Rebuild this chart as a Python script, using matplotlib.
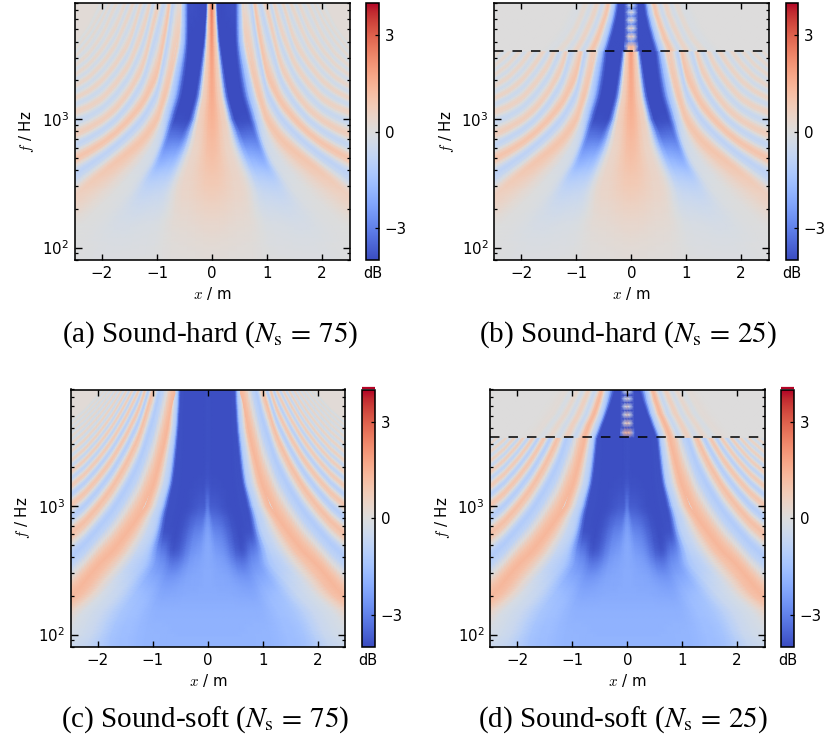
import numpy as np
import matplotlib
matplotlib.use("Agg")
import matplotlib.pyplot as plt
from matplotlib.colors import Normalize
from matplotlib.ticker import LogLocator, NullFormatter

W, H = 826, 742

# ---------- values (x in m, f in Hz, level in dB) ----------
ROW_F = [80, 100, 150, 200, 270, 350, 450, 600, 800, 1000, 1500, 2500, 4000, 8000]

# central region: one row per ROW_F, bands run from x = 0 out to the first ridge
SOFT_X = [[0, .50, 1.0, 1.6, 2.4, 3.6], [0, .50, 1.0, 1.6, 2.3, 3.3],
          [0, .40, .90, 1.4, 2.1, 2.85], [0, .35, .80, 1.2, 1.8, 2.45],
          [0, .30, .70, 1.0, 1.5, 2.22], [0, .25, .62, .85, 1.2, 2.0],
          [0, .20, .62, .85, 1.15, 1.72], [0, .15, .58, .80, 1.0, 1.5],
          [0, .10, .52, .76, .92, 1.28], [0, .05, .45, .72, .86, 1.13],
          [0, .10, .40, .62, .72, .98], [0, .10, .40, .56, .66, .84],
          [0, .10, .40, .52, .60, .73], [0, .10, .40, .48, .55, .66]]
SOFT_V = [[-1.9, -1.9, -1.85, -1.6, -.6, .5], [-1.9, -1.9, -1.85, -1.6, -.4, .8],
          [-1.95, -1.95, -1.95, -1.5, -.4, 1.1], [-2.1, -2.1, -2.15, -1.6, -.4, 1.35],
          [-2.1, -2.2, -2.5, -2.1, -.7, 1.35], [-2.1, -2.3, -3.1, -2.6, -1.2, 1.35],
          [-2.1, -2.5, -3.9, -3.0, -.9, 1.35], [-2.2, -2.8, -3.95, -3.9, -.9, 1.35],
          [-2.6, -3.3, -3.95, -3.9, -1.0, 1.35], [-3.1, -3.7, -3.95, -3.9, -1.0, 1.35],
          [-3.9, -3.95, -3.95, -3.9, -1.0, 1.35], [-3.9, -3.95, -3.95, -3.9, -1.0, 1.35],
          [-3.9, -3.95, -3.95, -3.9, -1.0, 1.35], [-3.9, -3.95, -3.95, -3.9, -1.0, 1.35]]
HARD_X = [[0, .60, 1.2, 1.8, 2.6, 3.6], [0, .60, 1.2, 1.8, 2.4, 3.3],
          [0, .60, 1.1, 1.6, 2.2, 3.0], [0, .55, 1.0, 1.35, 1.9, 2.7],
          [0, .55, .95, 1.2, 1.55, 2.45], [0, .50, .85, 1.1, 1.35, 2.1],
          [0, .42, .75, .95, 1.15, 1.8], [0, .33, .62, .85, 1.0, 1.4],
          [0, .27, .52, .74, .90, 1.12], [0, .24, .42, .68, .86, 1.0],
          [0, .15, .30, .54, .72, .86], [0, .10, .22, .46, .62, .72],
          [0, .07, .15, .42, .52, .62], [0, .05, .09, .42, .52, .56]]
HARD_V = [[.12, .08, -.05, -.08, -.05, .1], [.15, .1, -.08, -.1, -.05, .1],
          [.35, .2, -.15, -.25, -.05, .25], [.5, .3, -.35, -.4, -.05, .5],
          [.75, .4, -.6, -.7, -.1, .65], [.9, .4, -1.0, -1.1, -.2, .8],
          [1.05, .4, -1.6, -1.8, -.3, .95], [1.2, .4, -2.4, -2.6, -.4, 1.0],
          [1.35, .5, -3.6, -3.4, -.6, 1.0], [1.45, .6, -4, -4, -.8, 1.0],
          [1.6, .6, -4, -4, -1.1, 1.0], [1.75, .7, -4, -4, -1.2, .9],
          [2.0, .8, -4, -4, -1.2, .7], [2.6, 1.0, -4, -3.9, -1.2, .5]]

# outer fringes: frequency of each further ridge at the positions FRINGE_X
FRINGE_X = [.6, .8, 1.0, 1.25, 1.5, 1.75, 2.0, 2.25, 2.55]
SOFT_RIDGE_F = [[6e4, 2e4, 8000, 3500, 2080, 1375, 990, 750, 580],
                [9e4, 3.6e4, 13000, 5700, 3470, 2290, 1650, 1255, 970],
                [1e5, 5e4, 18500, 8000, 4860, 3210, 2306, 1757, 1360],
                [1.1e5, 6e4, 2.5e4, 10300, 6250, 4126, 2965, 2259, 1750],
                [1.2e5, 7e4, 3e4, 12600, 7640, 5043, 3625, 2761, 2140],
                [1.3e5, 8e4, 3.5e4, 15000, 9030, 5960, 4283, 3263, 2530],
                [1.4e5, 9e4, 4e4, 17200, 10400, 6877, 4942, 3765, 2920],
                [1.5e5, 1e5, 4.5e4, 19500, 11800, 7795, 5600, 4267, 3310],
                [1.6e5, 1.1e5, 5e4, 21800, 13200, 8710, 6260, 4769, 3700],
                [1.7e5, 1.2e5, 5.5e4, 24000, 14600, 9630, 6920, 5271, 4090],
                [1.8e5, 1.3e5, 6e4, 26500, 16000, 10550, 7580, 5773, 4480]]
HARD_RIDGE_F = [[4e4, 6500, 2200, 1350, 1000, 785, 650, 560, 480],
                [9e4, 16000, 7500, 2600, 1650, 1200, 980, 850, 740],
                [1e5, 3e4, 14000, 5000, 2700, 1900, 1450, 1250, 1120],
                [1.1e5, 5e4, 2e4, 9500, 4000, 2700, 2000, 1650, 1420],
                [2e5, 7e4, 3e4, 13000, 6800, 3800, 2700, 2100, 1760],
                [2.1e5, 8e4, 4e4, 18000, 10000, 5200, 3500, 2650, 2120],
                [2.2e5, 9e4, 5e4, 22000, 13500, 8000, 4500, 3200, 2500],
                [2.3e5, 1e5, 6e4, 27000, 17000, 10500, 6000, 4000, 2900],
                [2.4e5, 1.1e5, 7e4, 32000, 21000, 14000, 7000, 4700, 3300],
                [2.5e5, 1.2e5, 8e4, 38000, 25000, 18000, 9500, 5500, 3700]]
SOFT_RIDGE_DB = [1.1, .95, .8, .7, .6, .5, .4, .3, .25, .2, .15]
SOFT_VALLEY_DB = [-1.15, -1.05, -.95, -.8, -.65, -.5, -.4, -.35, -.3, -.25, -.2]
HARD_RIDGE_DB = [1.0, .7, .55, .5, .42, .35, .3, .25, .2, .15]
HARD_VALLEY_DB = [-.85, -.75, -.6, -.5, -.4, -.35, -.3, -.25, -.2, -.1]

# above the aliasing frequency (Ns = 25)
ALIAS_F = 3400
ABOVE_F = [ALIAS_F, 4200, 5200, 6500, 8000]
SOFT25_X = [[0, .52, .62, .78, .95, 1.1, 1.25, 1.4, 1.55, 1.7, 1.95, 2.6],
            [0, .44, .54, .70, .85, 1.0, 1.13, 1.27, 1.4, 1.52, 1.75, 2.6],
            [0, .36, .46, .60, .74, .88, 1.0, 1.12, 1.24, 1.35, 1.6, 2.6],
            [0, .28, .40, .52, .66, .78, .9, 1.0, 1.12, 1.22, 1.45, 2.6],
            [0, .22, .36, .46, .58, .70, .8, .9, 1.0, 1.1, 1.3, 2.6]]
SOFT25_V = [-3.95, -3.95, -1.0, 1.35, -.6, .65, -.35, .35, -.2, .15, .03, 0]
HARD25_X = [[0, .10, .42, .55, .72, .88, 1.0, 1.15, 1.3, 1.45, 1.7, 2.6],
            [0, .10, .36, .48, .62, .76, .88, 1.0, 1.12, 1.25, 1.5, 2.6],
            [0, .10, .30, .42, .54, .66, .78, .9, 1.0, 1.1, 1.35, 2.6],
            [0, .09, .25, .36, .46, .58, .68, .8, .9, 1.0, 1.25, 2.6],
            [0, .08, .22, .32, .41, .52, .62, .72, .82, .92, 1.15, 2.6]]
HARD25_V = [-2.8, -3.95, -3.95, -1.0, 1.0, -.5, .5, -.3, .28, -.15, .03, 0]

DOT_F = [3400, 3700, 4050, 4400, 4750, 5100, 5500, 5900, 6350, 6800, 7250, 7700, 8000]
DOT_X = [0, .05, .12]
SOFT_DOT_V = [[-3.9, -3.9, -3.9], [1.4, 1.1, -2.8], [-3.9, -3.9, -3.9], [.9, .1, -3.9],
              [-3.9, -3.9, -3.9], [.7, -.2, -3.9], [-3.9, -3.9, -3.9], [.5, -.5, -3.9],
              [-3.9, -3.9, -3.9], [.3, -.7, -3.9], [-3.9, -3.9, -3.9], [.2, -.9, -3.9],
              [-3.9, -3.9, -3.9]]
HARD_DOT_V = [[1.6, .6, -3.9], [1.4, 1.0, -2.8], [-2.2, -2.8, -3.9], [1.0, .1, -3.9],
              [-2.4, -3.0, -3.9], [.7, -.3, -3.9], [-2.4, -3.0, -3.9], [.5, -.6, -3.9],
              [-2.4, -3.0, -3.9], [.3, -.9, -3.9], [-2.4, -3.0, -3.9], [.1, -1.1, -3.9],
              [-2.4, -3.0, -3.9]]

X_TICKS = [-2, -1, 0, 1, 2]
CB_TICKS = [-3, 0, 3]
CAPTIONS = [r"(a) Sound-hard ($N_{\mathrm{s}}\,=\,75$)", r"(b) Sound-hard ($N_{\mathrm{s}}\,=\,25$)",
            r"(c) Sound-soft ($N_{\mathrm{s}}\,=\,75$)", r"(d) Sound-soft ($N_{\mathrm{s}}\,=\,25$)"]

# ---------- layout: left, right, top, bottom, colourbar left, colourbar right, caption x, caption y ----------
PANELS = [(74.5, 349.5, 3, 260, 366, 379, 210, 335),
          (494, 768.5, 3, 260, 785.5, 798, 628, 335),
          (70.5, 345, 389.5, 647, 361.5, 375, 205, 720),
          (490, 764.5, 389.5, 647, 781, 794, 623, 720)]

plt.rcParams.update({"font.family": "DejaVu Sans", "font.size": 11, "axes.linewidth": 1.15})
norm = Normalize(-4, 4)
CMAP = "coolwarm"


def mirrored(x, v):
    x, v = np.asarray(x, float), np.asarray(v, float)
    return np.hstack([-x[:, :0:-1], x]), np.hstack([v[:, :0:-1], v])


def soften_bands(x, v, n=4):
    """Round the piecewise-linear profile between neighbouring bands (columns)."""
    t = np.arange(n) / n
    s = (1 - np.cos(np.pi * t)) / 2
    xo, vo = [], []
    for j in range(x.shape[1] - 1):
        for tk, sk in zip(t, s):
            xo.append(x[:, j] + (x[:, j + 1] - x[:, j]) * tk)
            vo.append(v[:, j] + (v[:, j + 1] - v[:, j]) * sk)
    xo.append(x[:, -1])
    vo.append(v[:, -1])
    return np.array(xo).T, np.array(vo).T


def smooth_rows(pos, tables, n=6, passes=3):
    """Resample tables along their rows and ease the kinks between them."""
    pos = np.asarray(pos, float)
    u = np.arange(len(pos))
    new_u = np.linspace(0, len(pos) - 1, (len(pos) - 1) * n + 1)
    out = [np.interp(new_u, u, pos)]
    for tb in tables:
        tb = np.array([np.interp(new_u, u, tb[:, j]) for j in range(tb.shape[1])]).T
        for _ in range(passes):
            p = np.pad(tb, ((2, 2), (0, 0)), mode="edge")
            tb = (p[:-4] + 2 * p[1:-3] + 2 * p[2:-2] + 2 * p[3:-1] + p[4:]) / 8
        out.append(tb)
    return out


def base_field(ax, xt, vt, ridge_f, ridge_db, valley_db):
    rows = np.array(ROW_F, float)
    xt, vt = np.array(xt, float), np.array(vt, float)
    lr, xs, vs = smooth_rows(np.log10(rows), [xt, vt])
    xs2, vs2 = soften_bands(xs, vs)
    X, V = mirrored(xs2, vs2)
    Y = np.tile((10 ** lr)[:, None], (1, X.shape[1]))
    m = ax.pcolormesh(X, Y, V, shading="gouraud", cmap=CMAP, norm=norm, zorder=1)
    cols = np.array(FRINGE_X)
    lf0 = np.interp(cols, xs[::-1, -1], lr[::-1])
    f0 = 10 ** lf0
    v0 = np.interp(lf0, lr, vs[:, -1])
    lines, vals = [f0], [v0]
    prev = f0
    for r, rv, vv in zip(ridge_f, ridge_db, valley_db):
        r = np.array(r, float)
        lines += [(prev + r) / 2, r]
        vals += [np.full(len(cols), vv), np.full(len(cols), rv)]
        prev = r
    lines.append(np.full(len(cols), 6e5))
    vals.append(np.zeros(len(cols)))
    LF = np.log10(np.array(lines)).T      # one row per FRINGE_X, one column per line
    Vf = np.array(vals).T
    c2, LF2, Vf2 = smooth_rows(cols, [LF, Vf], passes=1)
    LF3, Vf3 = soften_bands(LF2, Vf2)
    F = 10 ** LF3
    Xf = np.tile(c2[:, None], (1, F.shape[1]))
    for sign in (1, -1):
        ax.pcolormesh(sign * Xf, F, Vf3, shading="gouraud", cmap=CMAP, norm=norm, zorder=1.1)
    return m


def above_field(ax, xt, v, dots):
    xs, vs = soften_bands(np.array(xt, float), np.tile(v, (len(ABOVE_F), 1)))
    X, V = mirrored(xs, vs)
    Y = np.tile(np.array(ABOVE_F, float)[:, None], (1, X.shape[1]))
    ax.pcolormesh(X, Y, V, shading="gouraud", cmap=CMAP, norm=norm, zorder=1.2)
    X, V = mirrored(np.tile(DOT_X, (len(DOT_F), 1)), dots)
    Y = np.tile(np.array(DOT_F, float)[:, None], (1, X.shape[1]))
    ax.pcolormesh(X, Y, V, shading="gouraud", cmap=CMAP, norm=norm, zorder=1.3)
    ax.axhline(ALIAS_F, color="k", lw=1.1, linestyle=(0, (6.2, 5.9)), xmax=0.985, zorder=3)


fig = plt.figure(figsize=(W / 100, H / 100), dpi=100, facecolor="white")


def rect(l, r, t, b):
    return [l / W, 1 - b / H, (r - l) / W, (b - t) / H]


SPEC = [(HARD_X, HARD_V, HARD_RIDGE_F, HARD_RIDGE_DB, HARD_VALLEY_DB, None),
        (HARD_X, HARD_V, HARD_RIDGE_F, HARD_RIDGE_DB, HARD_VALLEY_DB, (HARD25_X, HARD25_V, HARD_DOT_V)),
        (SOFT_X, SOFT_V, SOFT_RIDGE_F, SOFT_RIDGE_DB, SOFT_VALLEY_DB, None),
        (SOFT_X, SOFT_V, SOFT_RIDGE_F, SOFT_RIDGE_DB, SOFT_VALLEY_DB, (SOFT25_X, SOFT25_V, SOFT_DOT_V))]

for i, (p, s, cap) in enumerate(zip(PANELS, SPEC, CAPTIONS)):
    l, r, t, b, cl, cr, capx, capy = p
    ax = fig.add_axes(rect(l, r, t, b), facecolor="#dddcdc")
    ax.set_yscale("log")
    m = base_field(ax, *s[:5])
    if s[5] is not None:
        above_field(ax, *s[5])
    ax.set_xlim(-2.5, 2.5)
    ax.set_ylim(80, 8000)
    ax.set_xticks(X_TICKS)
    ax.set_xticklabels(["\u22122", "\u22121", "0", "1", "2"])
    ax.yaxis.set_major_locator(LogLocator(base=10, numticks=5))
    ax.yaxis.set_minor_locator(LogLocator(base=10, subs=np.arange(2, 10) * 1.0, numticks=12))
    ax.yaxis.set_minor_formatter(NullFormatter())
    ax.tick_params(axis="x", which="major", direction="in", top=True, length=4.5, width=1.0,
                   pad=4, labelsize=10.8)
    ax.tick_params(axis="y", which="major", direction="in", right=True, length=5, width=1.0,
                   pad=4, labelsize=10.8)
    ax.tick_params(axis="y", which="minor", direction="in", right=True, length=2.5, width=.9)
    ax.set_xlabel("$x$ / m", fontsize=10.8, labelpad=3, math_fontfamily="cm")
    ax.set_ylabel("$f$ / Hz", fontsize=10.8, labelpad=4, math_fontfamily="cm")
    for sp in ax.spines.values():
        sp.set_zorder(5)

    cax = fig.add_axes(rect(cl, cr, t, b))
    cb = fig.colorbar(m, cax=cax)
    cb.set_ticks(CB_TICKS)
    cb.set_ticklabels(["\u22123", "0", "3"])
    cax.tick_params(direction="in", length=3, width=.9, labelsize=10.8, pad=4)
    cax.text(0.5, -0.022, "dB", transform=cax.transAxes, ha="center", va="top", fontsize=10.5)
    if i >= 2:
        cax.plot([0, 1], [1.004, 1.004], transform=cax.transAxes, clip_on=False,
                 color="#b40426", lw=1.6, solid_capstyle="butt")

    fig.text(capx / W, 1 - capy / H, cap, ha="center", va="center", fontsize=21,
             family="Liberation Serif", math_fontfamily="stix")

fig.savefig("out.png", dpi=100)
